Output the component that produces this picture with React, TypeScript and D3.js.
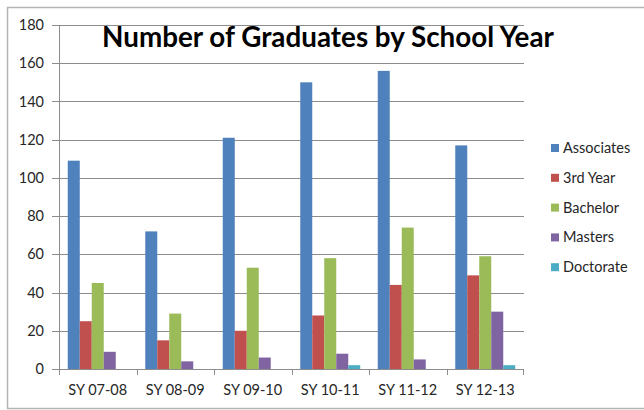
import React from "react";
import * as d3 from "d3";

const categories = ["SY 07-08", "SY 08-09", "SY 09-10", "SY 10-11", "SY 11-12", "SY 12-13"];
const seriesNames = ["Associates", "3rd Year", "Bachelor", "Masters", "Doctorate"];
const associates = [109, 72, 121, 150, 156, 117];
const thirdYear = [25, 15, 20, 28, 44, 49];
const bachelor = [45, 29, 53, 58, 74, 59];
const masters = [9, 4, 6, 8, 5, 30];
const doctorate = [0, 0, 0, 2, 0, 2];
const yTicks = [0, 20, 40, 60, 80, 100, 120, 140, 160, 180];
const colors = ["#4F81BD", "#C0504D", "#9BBB59", "#8064A2", "#4BACC6"];
const title = "Number of Graduates by School Year";

const seriesValues = [associates, thirdYear, bachelor, masters, doctorate];

const W = 644;
const H = 410;
const plot = { left: 59, right: 524, top: 25, bottom: 369 };
const FONT = "Lato, 'Open Sans', sans-serif";

export default function App() {
  const x0 = d3.scaleBand<string>().domain(categories).range([plot.left, plot.right]).paddingInner(0).paddingOuter(0);
  const gap = x0.bandwidth() * 0.113;
  const x1 = d3
    .scaleBand<string>()
    .domain(seriesNames)
    .range([gap, x0.bandwidth() - gap])
    .padding(0);
  const y = d3.scaleLinear().domain([0, 180]).range([plot.bottom, plot.top]);

  const gridColor = "#8c8c8c";
  const textColor = "#262626";

  return (
    <svg
      width={W}
      height={H}
      style={{ position: "absolute", left: 0, top: 0, background: "#fff" }}
      fontFamily={FONT}
    >
      <rect x={7.5} y={7.5} width={W} height={401} fill="#fff" stroke="#b4b4b4" strokeWidth={1.5} />
      {/* gridlines */}
      {yTicks.map((t) => (
        <g key={t}>
          <line x1={plot.left - 7} x2={plot.right} y1={Math.round(y(t)) + 0.5} y2={Math.round(y(t)) + 0.5} stroke={gridColor} strokeWidth={1} />
          <text x={44} y={y(t)} dy="0.35em" textAnchor="end" fontSize={14.5} fill={textColor}>
            {t}
          </text>
        </g>
      ))}
      {/* y axis */}
      <line x1={plot.left + 0.5} x2={plot.left + 0.5} y1={plot.top} y2={plot.bottom} stroke={gridColor} />
      {/* bars */}
      {categories.map((c, ci) => (
        <g key={c} transform={`translate(${x0(c)},0)`}>
          {seriesNames.map((s, si) => {
            const v = seriesValues[si][ci];
            if (!v) return null;
            return (
              <rect
                key={s}
                x={x1(s)}
                y={y(v)}
                width={x1.bandwidth()}
                height={y(0) - y(v)}
                fill={colors[si]}
              />
            );
          })}
        </g>
      ))}
      {/* x axis */}
      <line x1={plot.left} x2={plot.right} y1={plot.bottom + 0.5} y2={plot.bottom + 0.5} stroke={gridColor} />
      {categories.map((c) => (
        <line
          key={c + "t"}
          x1={Math.round(x0(c)!) + 0.5}
          x2={Math.round(x0(c)!) + 0.5}
          y1={plot.bottom}
          y2={plot.bottom + 6}
          stroke={gridColor}
        />
      ))}
      <line x1={plot.right - 0.5} x2={plot.right - 0.5} y1={plot.bottom} y2={plot.bottom + 6} stroke={gridColor} />
      {categories.map((c) => (
        <text key={c + "l"} x={x0(c)! + x0.bandwidth() / 2} y={395} textAnchor="middle" fontSize={14.5} fill={textColor}>
          {c}
        </text>
      ))}
      {/* title */}
      <text x={328} y={47} textAnchor="middle" fontSize={27.8} fontWeight="bold" fill="#000">
        {title}
      </text>
      {/* legend */}
      {seriesNames.map((s, i) => (
        <g key={s} transform={`translate(551, ${148 + i * 29.8})`}>
          <rect x={0} y={-4} width={8} height={8} fill={colors[i]} />
          <text x={12} y={0} dy="0.35em" fontSize={14.5} fill={textColor}>
            {s}
          </text>
        </g>
      ))}
    </svg>
  );
}
